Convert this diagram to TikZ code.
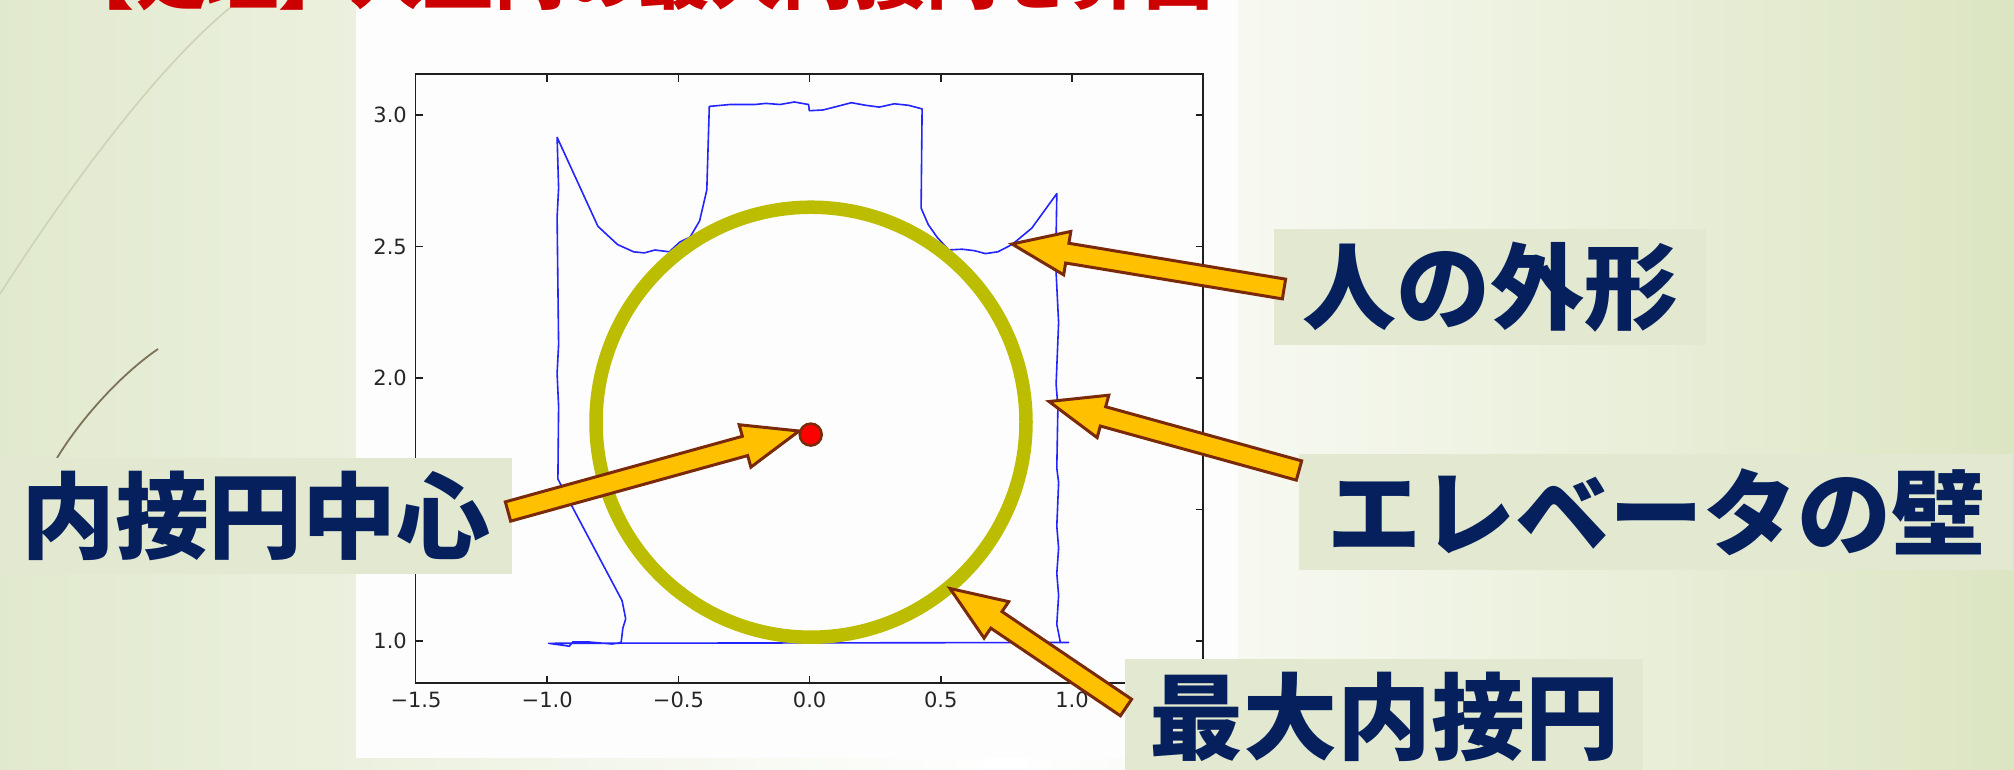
\documentclass[tikz,border=0pt]{standalone}
\usepackage{fontspec}
\setmainfont{DejaVu Sans}
\newfontfamily\cjk{Noto Sans CJK JP}
\usetikzlibrary{calc}
\definecolor{bgL}{HTML}{E1E9CD}
\definecolor{bgR}{HTML}{DCE5C2}
\definecolor{boxfill}{HTML}{E2E9D0}
\definecolor{navy}{HTML}{06205E}
\definecolor{arrowfill}{HTML}{FFC000}
\definecolor{arrowline}{HTML}{7A2A0A}
\definecolor{circcol}{HTML}{BDBD00}
\definecolor{titlered}{HTML}{CC0000}
\definecolor{plotbg}{HTML}{FDFDFD}
\definecolor{scancol}{HTML}{2424FF}
\definecolor{decoA}{HTML}{CDD2B8}
\definecolor{decoB}{HTML}{7D7258}
\tikzset{
  lab/.style={fill=boxfill, text=navy, inner sep=0pt, minimum height=116pt,
    font=\cjk\bfseries\fontsize{94}{100}\selectfont},
  barrow/.style={fill=arrowfill, draw=arrowline, line width=3pt, line join=miter},
  axisline/.style={draw=black!88, line width=1.5pt},
  ticklab/.style={text=black!85, inner sep=0pt, font=\fontsize{21}{24}\selectfont},
  scanline/.style={draw=scancol, line width=1.6pt, line join=round},
}
\newcommand{\blockarrow}[2]{%
  \path ($(#2)!56pt!(#1)$) coordinate (baB);
  \filldraw[barrow] ($(#1)!10pt!90:(#2)$) -- ($(baB)!10pt!90:(#2)$)
    -- ($(baB)!22pt!90:(#2)$) -- (#2) -- ($(baB)!22pt!-90:(#2)$)
    -- ($(baB)!10pt!-90:(#2)$) -- ($(#1)!10pt!-90:(#2)$) -- cycle;}
\begin{document}
\begin{tikzpicture}[x=1pt,y=-1pt]
\useasboundingbox (0,0) rectangle (2014,769);
\begin{scope}
\clip (0,0) rectangle (2014,769);
% slide background
\shade[left color=bgL, right color=bgR, middle color=white] (0,0) rectangle (2014,769);
\draw[decoA, line width=1.6pt] (240,0) .. controls (160,60) and (60,200) .. (0,294);
\draw[decoB, line width=1.8pt] (158,349) .. controls (120,375) and (80,420) .. (57,458);
% figure area
\fill[plotbg] (356,0) rectangle (1238,758);
% title (cut off at the top)
\node[anchor=base west, inner sep=0pt, text=titlered,
  font=\cjk\bfseries\fontsize{72}{80}\selectfont] (title) at (62,3) {【処理】人型内の最大内接円を算出};
% axes frame and ticks
\draw[axisline] (415.5,74) rectangle (1203,683);
\foreach \xx in {547.2,678.4,809.6,940.8,1072} {
  \draw[axisline] (\xx,683) -- ++(0,-7.5);
  \draw[axisline] (\xx,74) -- ++(0,7.5);
}
\foreach \yy in {641,509.5,378,246.5,115} {
  \draw[axisline] (415.5,\yy) -- ++(7.5,0);
  \draw[axisline] (1203,\yy) -- ++(-7.5,0);
}
\node[ticklab] (xa) at (416,700) {−1.5};
\node[ticklab] (xb) at (547.2,700) {−1.0};
\node[ticklab] (xc) at (678.4,700) {−0.5};
\node[ticklab] (xd) at (809.6,700) {0.0};
\node[ticklab] (xe) at (940.8,700) {0.5};
\node[ticklab] (xf) at (1072,700) {1.0};
\node[ticklab, anchor=east] (ya) at (407,641) {1.0};
\node[ticklab, anchor=east] (yc) at (407,378) {2.0};
\node[ticklab, anchor=east] (yd) at (407,246.5) {2.5};
\node[ticklab, anchor=east] (ye) at (407,115) {3.0};
% laser scan outline
\draw[scanline] (548.6,643.3) -- (569.3,646.2) -- (572.9,641.8) -- (587.1,641.8)
 -- (612.1,644) -- (621.1,642.5) -- (622.9,628) -- (625.7,618.9) -- (622.1,600.7)
 -- (572.9,508) -- (557.9,479) -- (558.6,406.2) -- (557.1,373.5) -- (558.6,344.5)
 -- (557.1,217.2) -- (558.6,188.1) -- (557.1,137.3) -- (597.9,226.3) -- (617.5,244.5)
 -- (633.6,251.8) -- (644.3,252.9) -- (655,250) -- (669.3,251.8) -- (680,241.9)
 -- (690,237.2) -- (699.6,220.9) -- (706.8,190) -- (709.3,106.4) -- (730,104.5)
 -- (755,104.5) -- (765.7,103.4) -- (780,104.5) -- (794.3,102) -- (808.6,104.5)
 -- (809.3,110.7) -- (822.9,110) -- (837.1,106.4) -- (851.4,102.7) -- (865.7,105.3)
 -- (879.3,107.1) -- (894.3,103.8) -- (908.6,105.3) -- (922.1,108.9) -- (921.1,208.1)
 -- (928.2,224.5) -- (937.1,237.2) -- (948.6,249.9) -- (962.1,249.2) -- (974.6,250.7)
 -- (985.4,253.6) -- (997.9,251.8) -- (1012.1,244.5) -- (1031.8,228.1) -- (1056.8,193.6)
 -- (1055.7,264.5) -- (1058.6,322.6) -- (1056.1,384.4) -- (1057.9,406.2) -- (1056.8,468)
 -- (1058.6,482.6) -- (1056.8,526.2) -- (1058.6,548) -- (1056.8,573.5) -- (1058.6,595.3)
 -- (1056.8,624.4) -- (1060.4,642.5) -- (1068.6,642.5) -- cycle;
% largest inscribed circle
\node[draw=circcol, line width=13.5pt, circle, inner sep=0pt, minimum size=430pt] (incircle) at (811,422.2) {};
% labels
\node[lab, minimum width=432pt] (outline) at (1490,287.3) {人の外形};
\node[lab, minimum width=714pt] (wall) at (1656,512) {エレベータの壁};
\node[lab, minimum width=512pt] (center) at (256,516) {内接円中心};
\node[lab, minimum width=518pt] (maxcircle) at (1384,717) {最大内接円};
% arrow end points
\coordinate (t1) at (1284,289);   \coordinate (p1) at (1012,244);
\coordinate (t2) at (1299,470.5); \coordinate (p2) at (1049,401.5);
\coordinate (t3) at (508,511.5);  \coordinate (p3) at (799,431);
\coordinate (t4) at (1126,707.5); \coordinate (p4) at (950,588.5);
\blockarrow{t1}{p1}
\blockarrow{t2}{p2}
\blockarrow{t3}{p3}
\blockarrow{t4}{p4}
% centre of the inscribed circle
\node[circle, fill=red, draw=arrowline, line width=2.5pt, inner sep=0pt, minimum size=22pt] (cdot) at (810.7,434.6) {};
\end{scope}
\end{tikzpicture}
\end{document}
